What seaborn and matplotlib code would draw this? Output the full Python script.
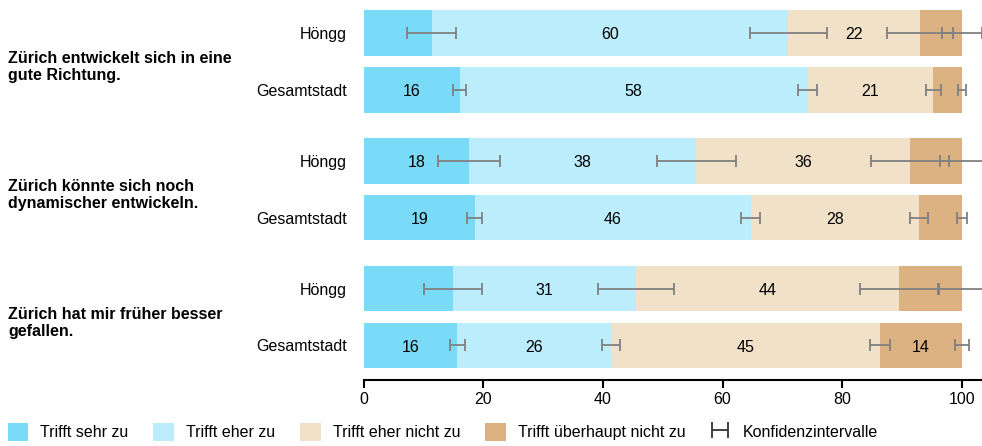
import numpy as np
import pandas as pd
import matplotlib
matplotlib.use("Agg")
import matplotlib.pyplot as plt
from matplotlib.patches import Patch
from matplotlib.transforms import blended_transform_factory
import seaborn as sns

# data (percent)
questions = ["Zürich entwickelt sich in eine\ngute Richtung.",
             "Zürich könnte sich noch\ndynamischer entwickeln.",
             "Zürich hat mir früher besser\ngefallen."]
groups = ["Höngg", "Gesamtstadt"] * 3
segments = ["Trifft sehr zu", "Trifft eher zu", "Trifft eher nicht zu",
            "Trifft überhaupt nicht zu"]

sehr_zu = [11.4, 16.1, 17.6, 18.6, 14.9, 15.7]
eher_zu = [59.6, 58.1, 38.0, 46.1, 30.6, 25.7]
eher_nicht = [22.0, 21.0, 35.7, 28.1, 44.0, 44.9]
gar_nicht = [7.0, 4.8, 8.7, 7.2, 10.5, 13.7]

# half widths of the confidence intervals
ci_sehr_zu = [4.1, 1.1, 5.2, 1.25, 4.85, 1.2]
ci_eher_zu = [6.4, 1.6, 6.6, 1.6, 6.4, 1.5]
ci_eher_nicht = [5.5, 1.3, 6.5, 1.5, 6.5, 1.6]
ci_gar_nicht = [3.3, 0.7, 3.7, 0.8, 3.8, 1.2]

# printed labels (None = not shown)
lab_sehr_zu = [None, "16", "18", "19", None, "16"]
lab_eher_zu = ["60", "58", "38", "46", "31", "26"]
lab_eher_nicht = ["22", "21", "36", "28", "44", "45"]
lab_gar_nicht = [None, None, None, None, None, "14"]

colors = ["#79dbf8", "#bbedfd", "#f0e1c8", "#ddb283"]

# row positions: pairs of bars with a larger gap between questions
pos = [0, 1, 2.25, 3.25, 4.5, 5.5]

sns.set_theme(style="white")
plt.rcParams["font.family"] = ["Liberation Sans", "DejaVu Sans"]
plt.rcParams["text.color"] = "black"
plt.rcParams["xtick.color"] = "black"
plt.rcParams["ytick.color"] = "black"

vals = np.array([sehr_zu, eher_zu, eher_nicht, gar_nicht])
cis = np.array([ci_sehr_zu, ci_eher_zu, ci_eher_nicht, ci_gar_nicht])
labs = [lab_sehr_zu, lab_eher_zu, lab_eher_nicht, lab_gar_nicht]
cum = vals.cumsum(axis=0)

rows = []
for s, seg in enumerate(segments):
    for i, p in enumerate(pos):
        rows.append({"pos": p, "cum": cum[s, i], "seg": seg})
df = pd.DataFrame(rows)

fig = plt.figure(figsize=(9.82, 4.46), dpi=100)
ax = fig.add_axes([0.3702, 0.148, 0.6298, 0.852])

# stacked bars: draw the cumulative ends, largest first
sns.barplot(data=df, x="cum", y="pos", hue="seg", hue_order=segments[::-1],
            palette=dict(zip(segments, colors)), orient="h", native_scale=True,
            dodge=False, width=0.8, saturation=1, linewidth=0, errorbar=None,
            legend=False, ax=ax)

for s in range(4):
    ax.errorbar(cum[s], pos, xerr=cis[s], fmt="none", ecolor="#808080",
                elinewidth=1.3, capsize=4, capthick=1.3, zorder=5)
    for i, p in enumerate(pos):
        if labs[s][i] is not None:
            ax.text(cum[s, i] - vals[s, i] / 2, p + 0.03, labs[s][i],
                    ha="center", va="center", fontsize=11.5, color="black",
                    zorder=6)

ax.set_xlim(0, 103.34)
ax.set_ylim(6.107, -0.58)
ax.set_xticks([0, 20, 40, 60, 80, 100])
ax.set_yticks(pos)
ax.set_yticklabels(groups, fontsize=11.5)
ax.tick_params(axis="x", labelsize=11.5, length=6, width=1.5, color="black",
               labelcolor="black", bottom=True, pad=3)
ax.tick_params(axis="y", length=0, pad=12, labelcolor="black")
ax.set_xlabel("")
ax.set_ylabel("")
sns.despine(ax=ax, left=True)
ax.spines["bottom"].set_linewidth(1.5)
ax.spines["bottom"].set_color("black")

# question labels at the left edge of the figure
trans = blended_transform_factory(fig.transFigure, ax.transData)
for q, question in enumerate(questions):
    yc = (pos[2 * q] + pos[2 * q + 1]) / 2
    ax.text(8 / 982, yc + 0.1, question, transform=trans, fontsize=11.5,
            fontweight="bold", ha="left", va="center", linespacing=1.2,
            color="black")

handles = [Patch(facecolor=c, edgecolor="none") for c in colors]
ci_handle = ax.errorbar([np.nan], [np.nan], xerr=[[np.nan], [np.nan]],
                        fmt="none", ecolor="#333333", elinewidth=1.3,
                        capsize=6, capthick=1.3)
handles.append(ci_handle)
fig.legend(handles, segments + ["Konfidenzintervalle"], loc="lower left",
           bbox_to_anchor=(-0.007, -0.02), ncol=5, frameon=False,
           fontsize=11.5, handlelength=1.3, handleheight=1.35,
           handletextpad=0.75, columnspacing=1.55)

fig.savefig("out.png", dpi=100)
